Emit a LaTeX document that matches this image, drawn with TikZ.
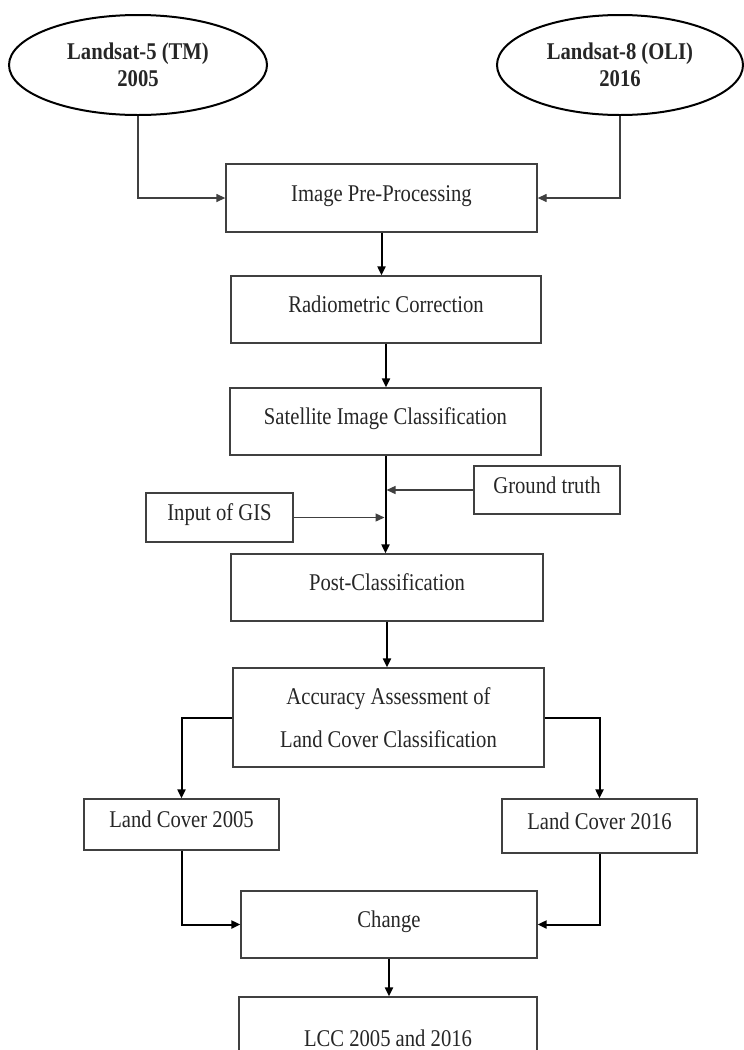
\documentclass[tikz,border=0pt]{standalone}
\usepackage{fontspec}
\setmainfont{Liberation Serif}[FakeStretch=0.86]
\usetikzlibrary{shapes.geometric,arrows.meta}

\tikzset{
	source/.style={ellipse, draw, line width=2pt, minimum width=258pt, minimum height=100pt,
		inner sep=0pt, align=center, font=\fontsize{24}{27}\selectfont\bfseries},
	stage/.style={rectangle, draw=black!75, line width=1.3pt, inner sep=0pt,
		text height=17pt, text depth=11pt},
	feed/.style={line width=1.3pt, draw=black!75, -{Triangle[length=9pt,width=8pt]}},
	flow/.style={line width=2pt, -{Triangle[length=9pt,width=8pt]}},
}

\begin{document}
\begin{tikzpicture}[x=1pt,y=-1pt,font=\fontsize{24}{27}\selectfont,text=black!85]
	\useasboundingbox (0,0) rectangle (744,1050);

	\node[source] (ls5) at (138,65) {Landsat-5 (TM)\\2005};
	\node[source, minimum width=246pt] (ls8) at (620,65) {Landsat-8 (OLI)\\2016};

	\node[stage, minimum width=311pt, minimum height=68pt] (pre) at (381.5,198) {Image Pre-Processing};
	\node[stage, minimum width=310pt, minimum height=67pt] (radio) at (386,309.5) {Radiometric Correction};
	\node[stage, minimum width=311pt, minimum height=67pt] (classif) at (385.5,421.5) {Satellite Image Classification};
	\node[stage, minimum width=146pt, minimum height=48pt] (ground) at (547,490) {Ground truth};
	\node[stage, minimum width=147pt, minimum height=49pt] (gis) at (219.5,517.5) {Input of GIS};
	\node[stage, minimum width=312pt, minimum height=67pt] (post) at (387,587.5) {Post-Classification};
	\node[rectangle, draw=black!75, line width=1.3pt, align=center, minimum width=311pt, minimum height=99pt] (accur) at (388.5,717.5)
		{Accuracy Assessment of\\[16pt]Land Cover Classification};
	\node[stage, minimum width=195pt, minimum height=51pt] (lc05) at (181.5,824.5) {Land Cover 2005};
	\node[stage, minimum width=195pt, minimum height=54pt] (lc16) at (599.5,826) {Land Cover 2016};
	\node[stage, minimum width=296pt, minimum height=67pt] (change) at (389,924.5) {Change};
	\node[stage, minimum width=298pt, minimum height=92pt] (lcc) at (388,1043) {LCC 2005 and 2016};

	\coordinate (gtend) at (classif.south |- ground.west);
	\coordinate (gisend) at (classif.south |- gis.east);

	\draw[feed] (ls5.south) |- (pre.west);
	\draw[feed] (ls8.south) |- (pre.east);
	\draw[flow] (pre.south) -- (pre.south |- radio.north);
	\draw[flow] (radio.south) -- (radio.south |- classif.north);
	\draw[flow] (classif.south) -- (classif.south |- post.north);
	\draw[feed, shorten >=1pt] (ground.west) -- (gtend);
	\draw[feed, shorten >=1pt] (gis.east) -- (gisend);
	\draw[flow] (post.south) -- (post.south |- accur.north);
	\draw[flow] (accur.west) -| (lc05.north);
	\draw[flow] (accur.east) -| (lc16.north);
	\draw[flow] (lc05.south) |- (change.west);
	\draw[flow] (lc16.south) |- (change.east);
	\draw[flow] (change.south) -- (change.south |- lcc.north);
\end{tikzpicture}
\end{document}
